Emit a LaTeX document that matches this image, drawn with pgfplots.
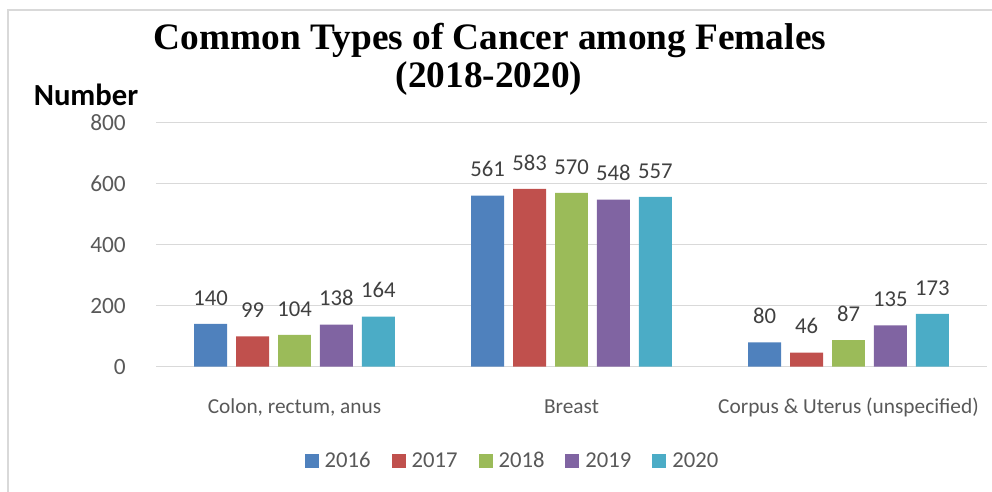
\documentclass[border=0pt]{standalone}
\usepackage{pgfplots}
\pgfplotsset{compat=1.18}
\usepackage{fontspec}
\setmainfont{Carlito}
\newfontfamily\titlefont{Liberation Serif}
\definecolor{cA}{HTML}{4F81BD}
\definecolor{cB}{HTML}{C0504D}
\definecolor{cC}{HTML}{9BBB59}
\definecolor{cD}{HTML}{8064A2}
\definecolor{cE}{HTML}{4BACC6}
\definecolor{gridc}{HTML}{D9D9D9}
\definecolor{framec}{HTML}{D9D9D9}
\definecolor{ticktext}{HTML}{595959}
\definecolor{labtext}{HTML}{404040}
\begin{document}
\begin{tikzpicture}[x=0.75pt,y=0.75pt]
\useasboundingbox (0,0) rectangle (992,492);
\draw[line width=1.5pt, color=framec] (8,0) -- (8,482) -- (992,482);
\begin{axis}[
  at={(117pt,94pt)}, anchor=south west,
  scale only axis, width=623.25pt, height=183pt,
  xmin=-0.5, xmax=2.5, ymin=0, ymax=800,
  ytick={0,200,400,600,800},
  xtick={0,1,2},
  xticklabels={{Colon, rectum, anus},Breast,{Corpus \& Uterus (unspecified)}},
  ybar=6.75pt, bar width=0.119,
  axis line style={draw=none},
  major tick style={draw=none},
  ymajorgrids, grid style={line width=1.1pt, color=gridc},
  /pgf/number format/assume math mode=true,
  yticklabel style={anchor=east, inner sep=0pt, xshift=-22.5pt, font=\fontsize{17.5}{21}\selectfont, text=ticktext},
  xticklabel style={anchor=base, inner sep=0pt, yshift=-31pt, font=\fontsize{16}{19}\selectfont, text=ticktext},
  nodes near coords,
  nodes near coords style={anchor=base, inner sep=0pt, yshift=14pt, font=\fontsize{17}{20}\selectfont, text=labtext},
  legend columns=-1,
  legend style={draw=none, at={(0.4278,-0.386)}, anchor=center, font=\fontsize{17}{20}\selectfont, text=ticktext,
    nodes={inner sep=0pt},
    /tikz/every odd column/.append style={column sep=4.5pt},
    /tikz/every even column/.append style={column sep=15.75pt}},
  legend image code/.code={\fill[#1] (0pt,-5.25pt) rectangle (10.5pt,5.25pt);},
]
\addplot[fill=cA, draw=none] coordinates {(0,140) (1,561) (2,80)};
\addplot[fill=cB, draw=none] coordinates {(0,99) (1,583) (2,46)};
\addplot[fill=cC, draw=none] coordinates {(0,104) (1,570) (2,87)};
\addplot[fill=cD, draw=none] coordinates {(0,138) (1,548) (2,135)};
\addplot[fill=cE, draw=none] coordinates {(0,164) (1,557) (2,173)};
\legend{2016,2017,2018,2019,2020}
\end{axis}
\node[anchor=base, font=\titlefont\bfseries\fontsize{28}{28}\selectfont] at (490,442) {Common Types of Cancer among Females};
\node[anchor=base, font=\titlefont\bfseries\fontsize{28}{28}\selectfont] at (489,404) {(2018-2020)};
\node[anchor=base, inner sep=0pt, font=\bfseries\fontsize{23}{23}\selectfont] at (86,386) {Number};
\end{tikzpicture}
\end{document}
